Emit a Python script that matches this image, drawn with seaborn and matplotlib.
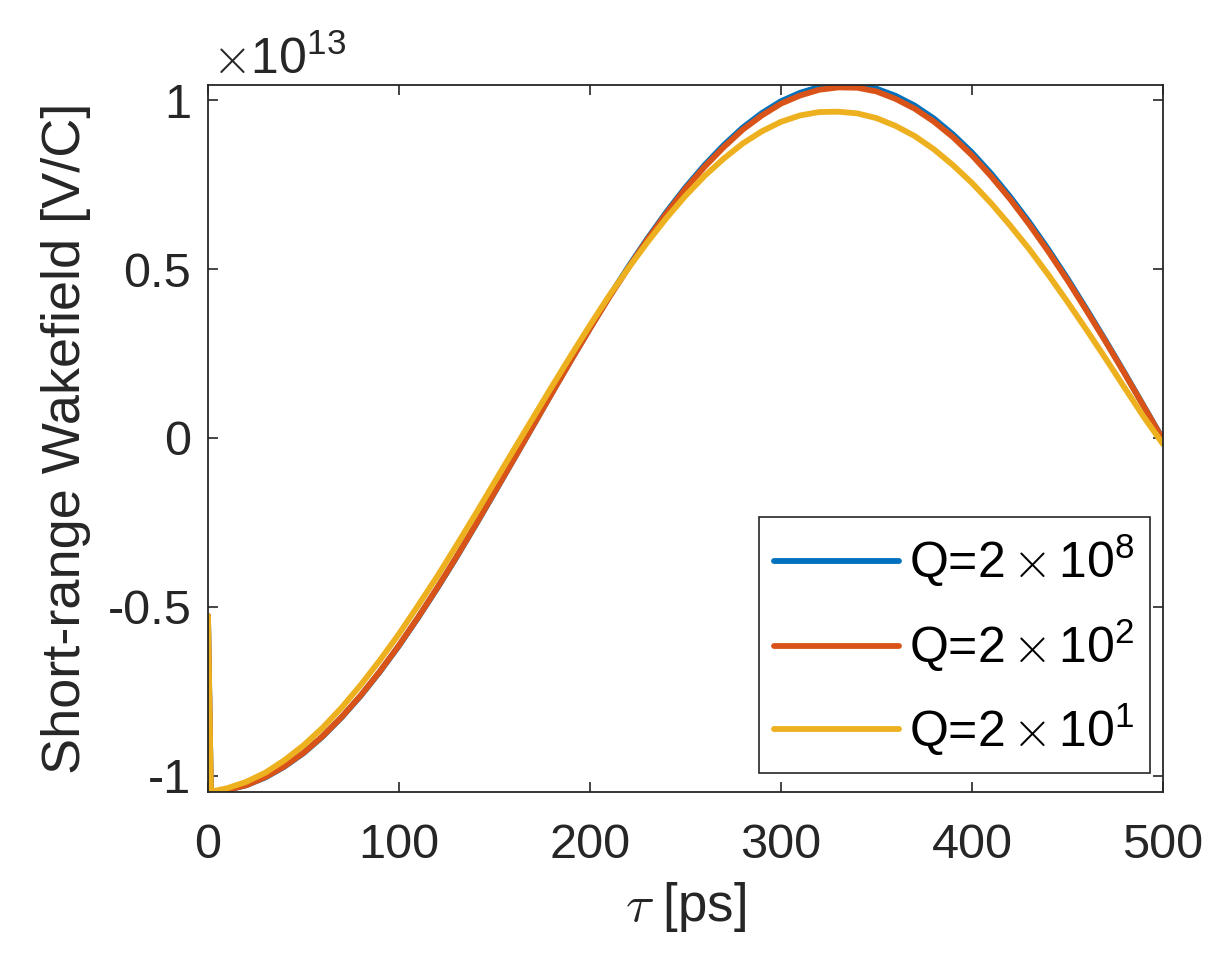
import numpy as np
import pandas as pd
import seaborn as sns
import matplotlib
matplotlib.use('Agg')
import matplotlib.pyplot as plt

# tau [ps] and wakefield values [x 1e13 V/C]
tau = [0, 1.5, 10, 20, 30, 40, 50, 60, 70, 80, 90, 100, 110, 120, 130, 140, 150, 160, 170,
       180, 190, 200, 210, 220, 230, 240, 250, 260, 270, 280, 290, 300, 310, 320, 330,
       340, 350, 360, 370, 380, 390, 400, 410, 420, 430, 440, 450, 460, 470, 480, 490, 500]

w_q2e8 = [-0.527, -1.047, -1.042, -1.028, -1.005, -0.973, -0.933, -0.884, -0.827, -0.763,
          -0.692, -0.615, -0.532, -0.445, -0.354, -0.259, -0.162, -0.064, 0.034, 0.133,
          0.230, 0.325, 0.418, 0.506, 0.590, 0.669, 0.742, 0.808, 0.867, 0.919, 0.962,
          0.997, 1.022, 1.039, 1.045, 1.044, 1.034, 1.013, 0.984, 0.946, 0.899, 0.845,
          0.783, 0.714, 0.639, 0.558, 0.472, 0.381, 0.288, 0.192, 0.094, -0.004]

w_q2e2 = [-0.527, -1.047, -1.042, -1.028, -1.004, -0.972, -0.932, -0.883, -0.826, -0.762,
          -0.691, -0.614, -0.531, -0.444, -0.353, -0.258, -0.161, -0.064, 0.034, 0.132,
          0.229, 0.324, 0.416, 0.503, 0.587, 0.665, 0.738, 0.803, 0.861, 0.913, 0.955,
          0.990, 1.014, 1.031, 1.038, 1.037, 1.026, 1.004, 0.975, 0.937, 0.891, 0.837,
          0.775, 0.707, 0.632, 0.552, 0.467, 0.377, 0.285, 0.190, 0.093, -0.005]

w_q2e1 = [-0.527, -1.047, -1.037, -1.018, -0.991, -0.954, -0.910, -0.858, -0.798, -0.731,
          -0.658, -0.580, -0.496, -0.410, -0.319, -0.226, -0.131, -0.036, 0.058, 0.152,
          0.244, 0.334, 0.421, 0.502, 0.579, 0.651, 0.717, 0.776, 0.827, 0.872, 0.908,
          0.936, 0.955, 0.965, 0.966, 0.961, 0.947, 0.924, 0.894, 0.855, 0.808, 0.755,
          0.695, 0.629, 0.559, 0.483, 0.403, 0.320, 0.235, 0.148, 0.062, -0.018]

labels = ['Q=$\\mathregular{2}\\,{\\times}\\,\\mathregular{10^{8}}$',
          'Q=$\\mathregular{2}\\,{\\times}\\,\\mathregular{10^{2}}$',
          'Q=$\\mathregular{2}\\,{\\times}\\,\\mathregular{10^{1}}$']
colors = ['#0072BD', '#D95319', '#EDB120']

df = pd.concat([
    pd.DataFrame({'tau': tau, 'W': w_q2e8, 'Q': labels[0]}),
    pd.DataFrame({'tau': tau, 'W': w_q2e2, 'Q': labels[1]}),
    pd.DataFrame({'tau': tau, 'W': w_q2e1, 'Q': labels[2]}),
])

sns.set_theme(style='white')
plt.rcParams['font.family'] = ['Liberation Sans', 'DejaVu Sans']
plt.rcParams['mathtext.fontset'] = 'cm'
txt = '#262626'

fig = plt.figure(figsize=(12.22, 9.75), dpi=100)
ax = fig.add_axes([0.1702, 0.1877, 0.7815, 0.7251])

sns.lineplot(data=df, x='tau', y='W', hue='Q', palette=colors, linewidth=4.2,
             sort=False, estimator=None, ax=ax)

ax.set_xlim(0, 500)
ax.set_ylim(-1.048, 1.045)
ax.set_xticks([0, 100, 200, 300, 400, 500])
ax.set_yticks([-1, -0.5, 0, 0.5, 1])
ax.set_yticklabels(['-1', '-0.5', '0', '0.5', '1'])

for s in ax.spines.values():
    s.set_color(txt)
    s.set_linewidth(1.3)
ax.tick_params(direction='in', length=7, width=1.2, colors=txt, labelsize=35,
               top=True, right=True, bottom=True, left=True)
ax.tick_params(axis='x', pad=22)
ax.tick_params(axis='y', pad=12)

ax.set_xlabel('$\\tau$ [ps]', fontsize=38, color=txt)
ax.set_ylabel('Short-range Wakefield [V/C]', fontsize=39, color=txt)
ax.xaxis.set_label_coords(0.5, -0.125)
ax.yaxis.set_label_coords(-0.122, 0.5)

fig.text(212 / 1222, 1 - 74 / 975, '$\\times\\mathregular{10^{13}}$', fontsize=36,
         color=txt, va='baseline', ha='left')

leg = ax.legend(loc='lower right', bbox_to_anchor=(0.986, 0.027), borderaxespad=0,
                fontsize=36, handlelength=2.5, handletextpad=0.2, labelspacing=0.55,
                borderpad=0.3, fancybox=False, framealpha=1, edgecolor=txt)
leg.get_frame().set_linewidth(1.2)
for t in leg.get_texts():
    t.set_color('black')

fig.savefig('out.png', dpi=100)
